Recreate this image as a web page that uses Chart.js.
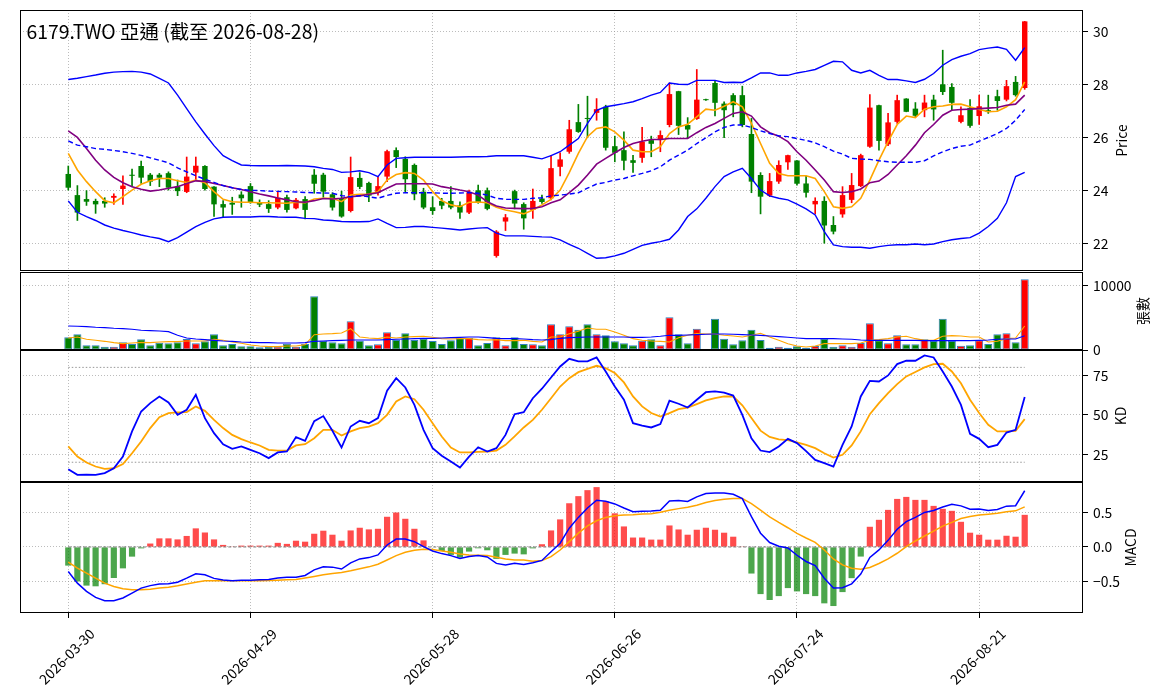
<!DOCTYPE html>
<html>
<head>
<meta charset="utf-8">
<script src="https://cdn.jsdelivr.net/npm/chart.js@4.4.1/dist/chart.umd.min.js"></script>
<style>
html,body{margin:0;padding:0;background:#fff;}
#wrap{position:relative;width:1163px;height:698px;overflow:hidden;background:#fff;}
canvas{position:absolute;left:0;}
</style>
</head>
<body>
<div id="wrap">
<canvas id="cPrice"></canvas>
<canvas id="cVol"></canvas>
<canvas id="cKD"></canvas>
<canvas id="cMACD"></canvas>
</div>
<script>
// ---------------- data ----------------
const titleText = '6179.TWO 亞通 (截至 2026-08-28)';
const dates = ['2026-03-30','2026-03-31','2026-04-01','2026-04-02','2026-04-07','2026-04-08','2026-04-09','2026-04-10','2026-04-13','2026-04-14','2026-04-15','2026-04-16','2026-04-17','2026-04-20','2026-04-21','2026-04-22','2026-04-23','2026-04-24','2026-04-27','2026-04-28','2026-04-29','2026-04-30','2026-05-04','2026-05-05','2026-05-06','2026-05-07','2026-05-08','2026-05-11','2026-05-12','2026-05-13','2026-05-14','2026-05-15','2026-05-18','2026-05-19','2026-05-20','2026-05-21','2026-05-22','2026-05-25','2026-05-26','2026-05-27','2026-05-28','2026-05-29','2026-06-01','2026-06-02','2026-06-03','2026-06-04','2026-06-05','2026-06-08','2026-06-09','2026-06-10','2026-06-11','2026-06-12','2026-06-15','2026-06-16','2026-06-17','2026-06-18','2026-06-22','2026-06-23','2026-06-24','2026-06-25','2026-06-26','2026-06-29','2026-06-30','2026-07-01','2026-07-02','2026-07-03','2026-07-06','2026-07-07','2026-07-08','2026-07-09','2026-07-10','2026-07-13','2026-07-14','2026-07-15','2026-07-16','2026-07-17','2026-07-20','2026-07-21','2026-07-22','2026-07-23','2026-07-24','2026-07-27','2026-07-28','2026-07-29','2026-07-30','2026-07-31','2026-08-03','2026-08-04','2026-08-05','2026-08-06','2026-08-07','2026-08-10','2026-08-11','2026-08-12','2026-08-13','2026-08-14','2026-08-17','2026-08-18','2026-08-19','2026-08-20','2026-08-21','2026-08-24','2026-08-25','2026-08-26','2026-08-27','2026-08-28'];
const tickIdx = [0,20,40,60,80,100];

const open = [24.62,23.82,23.67,23.60,23.60,23.72,24.05,24.59,24.92,24.59,24.59,24.65,24.14,23.94,24.67,24.92,24.14,23.48,23.53,23.84,24.16,23.53,23.48,23.35,23.74,
23.32,23.67,24.59,24.59,23.85,23.71,23.22,24.47,24.28,23.91,24.52,25.52,25.19,24.96,23.95,23.36,23.60,23.60,23.43,23.16,24.00,24.00,21.52,22.82,23.97,23.48,23.26,23.69,23.70,
24.89,25.46,26.58,26.72,26.93,27.16,25.67,25.52,25.14,25.23,25.90,25.90,26.47,27.75,26.47,26.70,27.44,28.06,27.28,27.60,27.60,26.13,24.58,23.80,24.33,25.06,25.13,24.26,
23.47,23.60,22.69,23.09,23.64,24.16,25.65,27.22,25.74,26.59,27.47,27.09,27.03,27.43,28.01,27.91,26.59,27.12,26.81,27.03,27.56,27.43,28.10,27.87];
const high = [24.92,24.18,23.99,23.67,23.72,23.87,24.55,24.80,25.11,24.64,24.64,24.70,24.39,25.26,25.26,24.94,24.14,23.61,23.74,23.95,24.26,23.64,23.61,23.97,23.82,
23.70,23.76,24.79,24.65,23.91,23.97,25.26,24.67,24.31,24.52,25.52,25.61,25.27,25.00,24.08,23.76,23.70,24.14,23.57,24.01,24.20,24.09,22.48,23.09,24.01,23.53,24.05,23.82,25.32,
25.42,26.65,27.25,27.56,27.47,27.22,26.05,26.21,25.32,26.38,26.05,26.25,28.06,27.75,26.75,28.57,27.45,28.16,27.35,27.66,27.94,26.72,24.67,24.64,25.12,25.33,25.13,24.54,
23.72,23.76,23.01,24.14,24.64,25.37,27.62,27.22,26.91,27.60,27.47,27.32,27.60,27.60,29.30,28.04,27.16,27.43,27.60,27.60,27.79,28.16,28.31,30.39];
const low = [24.01,22.86,23.43,23.13,23.36,23.47,23.47,24.14,24.26,24.18,24.14,24.01,23.80,23.91,24.39,24.01,23.01,22.98,23.09,23.36,23.51,23.38,23.16,23.30,23.17,
23.30,22.92,23.89,23.74,23.25,22.98,23.18,24.06,23.57,23.82,24.33,24.86,23.95,23.64,23.30,23.09,23.30,23.30,22.94,23.12,23.51,23.26,21.47,22.48,23.30,22.53,22.94,23.51,23.64,
24.55,25.40,26.19,25.99,26.65,25.52,25.08,24.77,24.68,25.06,25.27,25.46,26.40,26.11,25.99,26.68,27.40,26.81,25.99,26.78,26.40,23.91,23.11,23.76,24.26,24.79,24.20,23.74,
23.11,22.00,22.35,22.98,23.53,24.14,25.62,25.52,25.69,26.53,26.97,26.78,26.78,26.65,27.62,27.03,26.55,26.38,26.49,26.91,27.03,27.38,27.56,27.82];
const close = [24.10,23.16,23.57,23.47,23.50,23.79,24.18,24.55,24.48,24.33,24.48,24.10,23.97,24.52,24.93,24.05,23.47,23.35,23.46,23.70,23.55,23.46,23.30,23.72,23.26,
23.64,23.26,24.25,23.95,23.35,23.01,24.50,24.13,23.80,24.16,25.48,25.26,24.42,23.85,23.35,23.22,23.42,23.35,23.16,23.92,23.55,23.30,22.44,22.98,23.50,22.94,23.60,23.56,24.84,
25.17,26.31,26.21,26.70,27.07,25.61,25.42,25.12,25.04,25.84,25.76,26.09,27.64,26.44,26.30,27.43,27.41,27.31,27.03,27.22,26.47,24.33,23.76,24.35,24.96,25.33,24.25,23.91,
23.60,22.67,22.44,23.82,24.20,25.33,27.13,25.87,26.57,27.41,26.97,26.82,27.32,27.06,27.72,27.31,26.84,26.44,27.18,26.96,27.38,27.94,27.60,30.39];

const bbUpper = [28.19,28.24,28.30,28.36,28.43,28.47,28.49,28.50,28.47,28.40,28.23,28.06,27.60,27.09,26.59,26.13,25.69,25.31,25.12,24.96,24.94,24.93,24.93,24.93,24.94,
24.93,24.92,24.89,24.83,24.79,24.68,24.70,24.74,24.67,24.52,24.96,25.21,25.23,25.25,25.25,25.25,25.25,25.25,25.26,25.27,25.27,25.28,25.31,25.31,25.31,25.31,25.25,25.19,25.31,
25.46,25.71,25.96,26.53,27.03,27.16,27.22,27.28,27.35,27.47,27.60,27.70,28.06,28.01,28.00,28.16,28.16,28.16,28.08,28.09,28.08,28.25,28.44,28.44,28.35,28.35,28.44,28.50,
28.57,28.73,28.88,28.86,28.54,28.44,28.54,28.35,28.19,28.19,28.14,28.08,28.20,28.42,28.73,28.94,29.07,29.17,29.32,29.38,29.42,29.33,28.92,29.40];
const bbMid = [25.87,25.71,25.65,25.58,25.55,25.51,25.46,25.40,25.32,25.23,25.14,25.04,24.85,24.70,24.55,24.42,24.30,24.18,24.10,24.03,24.00,23.99,23.97,23.96,23.95,
23.94,23.92,23.91,23.90,23.89,23.80,23.76,23.80,23.76,23.70,23.81,23.89,23.91,23.91,23.91,23.91,23.89,23.89,23.90,23.91,23.89,23.82,23.70,23.66,23.66,23.66,23.70,23.72,23.79,
23.82,23.86,23.91,24.08,24.24,24.30,24.39,24.45,24.55,24.64,24.74,24.89,25.14,25.33,25.52,25.77,25.99,26.21,26.38,26.47,26.47,26.38,26.25,26.15,26.06,26.03,25.96,25.89,
25.80,25.65,25.48,25.37,25.21,25.18,25.17,25.12,25.08,25.06,25.06,25.06,25.12,25.30,25.46,25.58,25.67,25.71,25.86,26.00,26.15,26.34,26.65,27.06];
const bbLower = [23.60,23.17,23.01,22.86,22.69,22.57,22.48,22.40,22.31,22.24,22.18,22.06,22.21,22.42,22.63,22.79,22.92,22.98,22.99,22.99,22.99,23.01,23.01,22.99,22.98,
22.98,22.94,22.93,22.88,22.86,22.82,22.81,22.81,22.82,22.92,22.75,22.59,22.60,22.63,22.63,22.60,22.57,22.54,22.50,22.54,22.57,22.59,22.38,22.28,22.28,22.28,22.26,22.24,22.23,
22.13,21.96,21.81,21.62,21.43,21.45,21.52,21.62,21.77,21.92,22.00,22.06,22.15,22.50,23.01,23.30,23.70,24.14,24.52,24.70,24.83,24.45,24.01,23.79,23.70,23.64,23.48,23.30,
23.07,22.44,21.94,21.87,21.85,21.85,21.81,21.87,21.92,21.94,21.94,21.97,21.94,21.97,22.06,22.13,22.18,22.21,22.38,22.63,22.94,23.53,24.52,24.68];
const ma5 = [25.40,24.77,24.33,23.95,23.61,23.53,23.76,24.01,24.23,24.36,24.45,24.45,24.36,24.30,24.39,24.29,23.95,23.66,23.57,23.55,23.55,23.53,23.53,23.52,23.51,
23.55,23.53,23.67,23.70,23.70,23.57,23.82,23.85,23.86,23.95,24.39,24.60,24.67,24.64,24.39,23.95,23.61,23.45,23.38,23.55,23.56,23.53,23.36,23.26,23.19,23.11,23.26,23.45,23.66,
24.01,24.67,25.40,26.03,26.34,26.40,26.21,25.90,25.52,25.46,25.46,25.65,26.15,26.40,26.50,26.78,27.07,27.03,27.18,27.35,27.16,26.53,25.77,25.02,24.64,24.55,24.55,24.55,
24.45,23.95,23.38,23.32,23.38,23.70,24.39,25.14,25.84,26.49,26.81,26.75,27.07,27.16,27.19,27.25,27.26,27.16,27.06,26.97,26.99,27.16,27.43,28.10];
const ma10 = [26.25,26.00,25.58,25.14,24.77,24.49,24.29,24.14,24.04,23.97,24.01,24.08,24.14,24.26,24.36,24.34,24.26,24.18,24.10,24.03,23.95,23.86,23.79,23.71,23.64,
23.57,23.55,23.61,23.69,23.67,23.70,23.76,23.79,23.85,23.91,24.08,24.24,24.25,24.25,24.25,24.24,24.14,24.08,24.01,23.95,23.82,23.57,23.41,23.33,23.32,23.31,23.32,23.38,23.53,
23.64,23.91,24.20,24.58,24.99,25.21,25.42,25.62,25.77,25.86,25.92,25.92,25.96,25.96,25.96,26.18,26.38,26.53,26.72,26.91,26.97,26.81,26.40,26.18,26.05,25.84,25.46,25.14,
24.77,24.39,23.95,23.92,23.95,24.05,24.29,24.35,24.60,24.96,25.31,25.71,26.18,26.49,26.84,27.03,27.06,27.07,27.09,27.11,27.13,27.22,27.26,27.60];

const volume = [1959,2423,722,722,515,515,1186,928,1649,722,1134,1031,1186,1701,1031,1340,2423,722,928,567,567,412,464,515,979,
515,928,8299,1443,1186,1031,4433,1443,722,876,2732,1546,2577,1546,1753,1392,928,1495,1907,1856,722,1082,1959,722,1959,928,876,722,3969,
2423,3660,3144,3969,2423,2268,1340,1031,722,1443,1649,722,5052,2423,1031,3299,30,4845,1753,876,1495,3144,1546,361,515,361,567,361,
619,1753,515,722,515,1082,4124,1495,1031,2268,876,876,1649,1392,4845,1392,670,722,1495,928,2423,2577,1186,10928];
const volMA20 = [3711,3660,3608,3505,3454,3351,3299,3196,3041,2990,2938,2835,2268,1856,1701,1598,1495,1392,1340,1237,1186,1134,1134,1083,1083,
1083,1134,1340,1392,1443,1495,1547,1547,1547,1547,1598,1650,1701,1753,1804,1804,1856,1907,1959,2010,2010,1907,1804,1753,1753,1701,1598,1547,1598,
1804,1907,1959,2010,2010,2010,2010,2010,1959,1959,2010,2114,2268,2268,2320,2371,2423,2474,2474,2423,2371,2320,2268,2165,2062,1959,1856,1753,
1753,1753,1753,1701,1650,1547,1495,1495,1495,1495,1495,1495,1443,1443,1443,1443,1443,1443,1495,1547,1650,1701,1701,2217];
const volMA5 = [1856,2010,1650,1495,1340,1134,979,1083,1186,1134,1237,1289,1289,1392,1392,1392,1650,1495,1237,1031,773,619,516,516,619,
619,825,2371,2474,2526,2629,3299,2010,1856,1753,2010,1856,2010,2062,2114,1959,1753,1701,1753,1753,1598,1547,1598,1443,1443,1495,1340,1237,2010,
2010,2526,2887,3402,3196,3196,2784,2268,1753,1495,1392,1340,1237,1907,2268,2526,2474,2474,2268,2165,2010,2268,2577,2010,1495,979,619,464,
619,979,979,979,979,1083,1495,1598,1753,2010,2114,1753,1495,1495,2114,2217,2165,2010,2010,1237,1340,1753,1856,3712];

const kLine = [15.6,12.0,12.2,12.0,13.1,16.2,23.6,39.5,52.1,57.4,61.6,57.8,50.0,53.2,62.7,47.9,38.4,31.4,28.5,30.0,27.8,25.7,22.6,26.2,26.8,
35.9,33.5,46.0,49.2,39.9,29.3,42.6,46.2,44.7,47.9,65.2,73.2,67.3,56.3,40.5,28.9,24.1,20.5,16.7,23.6,29.5,26.8,28.9,37.3,50.4,51.7,60.5,66.5,73.6,
80.6,85.4,83.8,83.8,86.3,77.4,67.9,59.5,44.7,43.2,42.0,44.1,58.9,57.0,54.6,59.5,64.3,64.8,64.1,62.2,50.0,35.2,27.4,26.4,30.0,34.8,32.1,27.0,
21.5,19.4,17.3,31.0,42.6,61.6,71.5,71.1,74.9,82.1,84.2,84.2,87.6,86.3,77.4,67.9,56.3,38.0,34.8,29.5,31.0,38.8,40.5,61.2];
const dLine = [30.0,23.6,19.8,17.3,15.8,16.2,18.8,25.7,33.1,41.6,48.5,51.1,51.5,51.7,55.3,52.5,46.8,41.6,37.3,34.6,32.5,30.6,27.8,27.4,27.4,
30.6,31.4,35.2,40.5,40.5,36.9,39.5,41.6,42.6,44.7,50.0,58.4,61.6,59.9,53.2,44.7,36.3,29.3,26.2,26.2,26.6,26.8,27.4,31.0,36.3,42.0,46.8,53.2,60.5,
67.9,73.2,77.0,79.1,81.0,79.5,76.4,70.5,61.6,55.3,51.1,48.9,51.1,53.6,54.6,56.8,59.1,60.5,61.6,61.6,56.0,48.0,40.0,36.0,34.5,34.0,32.5,31.0,
28.9,25.7,23.0,24.7,30.6,39.5,50.4,57.4,63.7,69.4,74.3,77.1,80.0,82.1,82.3,77.4,70.0,59.5,51.1,43.7,39.5,39.5,39.9,47.3];
const kdRefLevels = [20, 80];

const macdHist = [-0.27,-0.50,-0.56,-0.57,-0.54,-0.45,-0.31,-0.14,-0.02,0.05,0.125,0.125,0.11,0.16,0.27,0.21,0.11,0.03,0.003,0.02,0.02,0.02,0.02,0.06,0.045,
0.091,0.077,0.192,0.236,0.178,0.091,0.240,0.279,0.255,0.264,0.438,0.500,0.409,0.264,0.096,-0.005,-0.058,-0.115,-0.154,-0.067,-0.019,-0.048,-0.173,-0.115,-0.096,-0.107,-0.02,0.04,0.24,
0.40,0.634,0.737,0.824,0.868,0.663,0.488,0.298,0.137,0.137,0.107,0.107,0.312,0.254,0.178,0.25,0.279,0.25,0.207,0.149,0.003,-0.385,-0.683,-0.769,-0.712,-0.596,-0.644,-0.683,
-0.712,-0.817,-0.856,-0.654,-0.452,-0.139,0.293,0.394,0.538,0.697,0.726,0.683,0.683,0.596,0.553,0.524,0.365,0.207,0.178,0.106,0.106,0.163,0.149,0.466];
const dif = [-0.356,-0.524,-0.644,-0.731,-0.779,-0.779,-0.740,-0.668,-0.596,-0.560,-0.538,-0.534,-0.510,-0.452,-0.389,-0.404,-0.455,-0.480,-0.488,-0.481,-0.481,-0.476,-0.471,-0.450,-0.440,
-0.438,-0.413,-0.332,-0.288,-0.292,-0.320,-0.231,-0.173,-0.154,-0.115,0.029,0.115,0.115,0.077,0.005,-0.058,-0.096,-0.125,-0.168,-0.139,-0.125,-0.144,-0.238,-0.260,-0.236,-0.254,-0.230,-0.195,-0.068,
0.054,0.273,0.429,0.566,0.678,0.663,0.624,0.566,0.512,0.517,0.522,0.532,0.668,0.673,0.660,0.726,0.774,0.784,0.784,0.764,0.702,0.440,0.200,0.065,0.010,-0.015,-0.120,-0.210,
-0.270,-0.452,-0.596,-0.590,-0.534,-0.392,-0.151,-0.043,0.096,0.258,0.368,0.429,0.501,0.529,0.580,0.618,0.596,0.546,0.551,0.529,0.543,0.592,0.599,0.815];
const signal = [-0.221,-0.308,-0.380,-0.452,-0.524,-0.572,-0.606,-0.620,-0.620,-0.611,-0.596,-0.582,-0.563,-0.538,-0.510,-0.490,-0.490,-0.490,-0.490,-0.490,-0.490,-0.490,-0.486,-0.481,-0.476,
-0.470,-0.449,-0.428,-0.404,-0.385,-0.370,-0.346,-0.317,-0.288,-0.250,-0.188,-0.125,-0.077,-0.048,-0.034,-0.038,-0.058,-0.077,-0.101,-0.115,-0.120,-0.125,-0.149,-0.173,-0.188,-0.190,-0.205,-0.195,-0.141,
-0.044,0.078,0.200,0.307,0.380,0.429,0.454,0.463,0.468,0.478,0.483,0.502,0.532,0.556,0.577,0.606,0.644,0.673,0.692,0.702,0.702,0.630,0.534,0.438,0.356,0.279,0.197,0.130,
0.067,-0.043,-0.173,-0.260,-0.308,-0.322,-0.298,-0.240,-0.173,-0.091,0.005,0.087,0.159,0.231,0.303,0.356,0.413,0.442,0.462,0.476,0.490,0.510,0.524,0.582];

const priceTicks = [22,24,26,28,30];
const volTicks = [0,10000];
const kdTicks = [25,50,75];
const macdTicks = [-0.5,0,0.5];

// ---------------- layout / style ----------------
const FONT = '"Noto Sans CJK TC","Noto Sans CJK SC","Noto Sans",sans-serif';
Chart.defaults.font.family = FONT;
const W = 1163, PLOT_LEFT = 20, AXIS_W = 80;
const X_MIN = -5.3, X_MAX = 111.4;
const GRID = 'rgba(150,150,150,0.8)';
const UP = '#ff0000', DOWN = '#008000';
const candleColor = close.map((c,i) => c >= open[i] ? UP : DOWN);
const n = dates.length;

function pts(arr){ return arr.map((v,i) => ({x:i, y:v})); }
function lineDS(arr, color, width, dash){
  return {type:'line', data:pts(arr), borderColor:color, borderWidth:width, borderDash:dash||[],
          pointRadius:0, pointHoverRadius:0, tension:0, fill:false, order:0};
}
function levelDS(level, color, width, dash){
  return {type:'line', data:[{x:0,y:level},{x:n-1,y:level}], borderColor:color, borderWidth:width,
          borderDash:dash, pointRadius:0, tension:0, fill:false, order:1};
}
function xScale(drawTicks){
  return {type:'linear', min:X_MIN, max:X_MAX, offset:false,
    afterBuildTicks: ax => { ax.ticks = tickIdx.map(v => ({value:v})); },
    afterFit: ax => { ax.height = 0; ax.paddingLeft = 0; ax.paddingRight = 0; ax.paddingTop = 0; ax.paddingBottom = 0; },
    ticks:{display:false},
    grid:{offset:false, color:GRID, lineWidth:0.8, drawTicks:drawTicks, tickLength:5, tickColor:'#000', tickWidth:1},
    border:{display:false, dash:[1,2]}};
}
function yScale(min, max, ticks, fmt){
  return {type:'linear', position:'right', min:min, max:max,
    afterBuildTicks: ax => { ax.ticks = ticks.map(v => ({value:v})); },
    afterFit: ax => { ax.width = AXIS_W; ax.paddingTop = 0; ax.paddingBottom = 0; },
    ticks:{color:'#000', font:{family:FONT, size:13.9}, padding:5, callback:fmt},
    grid:{color:GRID, lineWidth:0.8, drawTicks:true, tickLength:5, tickColor:'#000', tickWidth:1},
    border:{display:false, dash:[1,2]}};
}

const framePlugin = {
  id:'frame',
  afterDraw(chart){
    const {ctx, chartArea:a} = chart;
    ctx.save();
    ctx.strokeStyle = '#000'; ctx.lineWidth = 1;
    ctx.strokeRect(a.left + 0.5, a.top + 0.5, a.right - a.left - 1, a.bottom - a.top - 1);
    ctx.restore();
  }
};
const textPlugin = {
  id:'texts',
  afterDraw(chart, args, opts){
    const ctx = chart.ctx, top = opts.canvasTop || 0;
    (opts.items || []).forEach(t => {
      ctx.save();
      ctx.fillStyle = '#000';
      ctx.font = (t.weight || 'normal') + ' ' + t.size + 'px ' + FONT;
      ctx.textAlign = t.align || 'center';
      ctx.textBaseline = t.baseline || 'middle';
      ctx.translate(t.x, t.y - top);
      if (t.rot) ctx.rotate(t.rot);
      ctx.fillText(t.text, 0, 0);
      ctx.restore();
    });
    if (opts.xLabels){
      const sx = chart.scales.x;
      tickIdx.forEach(v => {
        const x = sx.getPixelForValue(v);
        ctx.save();
        ctx.fillStyle = '#000';
        ctx.font = '13.9px ' + FONT;
        ctx.textAlign = 'center'; ctx.textBaseline = 'middle';
        ctx.translate(x - 1.5, opts.xLabelY - top);
        ctx.rotate(-Math.PI/4);
        ctx.fillText(dates[v], 0, 0);
        ctx.restore();
      });
    }
  }
};

function makePanel(id, top, height, padTop, padBottom, datasets, yOpt, drawXTicks, texts){
  const cv = document.getElementById(id);
  cv.width = W; cv.height = height;
  cv.style.top = top + 'px'; cv.style.width = W + 'px'; cv.style.height = height + 'px';
  return new Chart(cv, {
    data:{datasets:datasets},
    options:{
      responsive:false, animation:false, events:[],
      layout:{padding:{left:PLOT_LEFT, right:0, top:padTop, bottom:padBottom}},
      plugins:{legend:{display:false}, tooltip:{enabled:false}, texts:Object.assign({canvasTop:top}, texts)},
      scales:{x:xScale(drawXTicks), y:yOpt}
    },
    plugins:[framePlugin, textPlugin]
  });
}

// ---------------- price panel ----------------
makePanel('cPrice', 2, 279, 8, 10, [
  {type:'bar', data:low.map((l,i) => ({x:i, y:[l, high[i]]})), backgroundColor:candleColor,
   barThickness:1, grouped:false, order:3},
  {type:'bar', data:open.map((o,i) => ({x:i, y:[o, close[i]]})), backgroundColor:candleColor,
   barPercentage:0.6, categoryPercentage:1, minBarLength:1, grouped:false, order:2},
  lineDS(bbUpper, '#0000ff', 1.4),
  lineDS(bbLower, '#0000ff', 1.4),
  lineDS(bbMid, '#0000ff', 1.4, [5,3]),
  lineDS(ma10, '#800080', 1.6),
  lineDS(ma5, '#ffa500', 1.6)
], yScale(20.95, 30.82, priceTicks, v => String(v)), false,
{items:[
  {text:titleText, x:26.5, y:38.5, size:19.4, align:'left', baseline:'alphabetic'},
  {text:'Price', x:1122, y:140.5, size:13.9, rot:-Math.PI/2}
]});

// ---------------- volume panel ----------------
makePanel('cVol', 264, 96, 8, 10, [
  {type:'bar', data:pts(volume), backgroundColor:candleColor, borderColor:'#2f7fbf', borderWidth:1,
   borderSkipped:false, barPercentage:0.88, categoryPercentage:1, grouped:false, order:2},
  lineDS(volMA20, '#0000ff', 1.1),
  lineDS(volMA5, '#ffa500', 1.1)
], yScale(0, 12056, volTicks, v => String(v)), false,
{items:[{text:'張數', x:1143, y:311, size:13.9, rot:-Math.PI/2}]});

// ---------------- KD panel ----------------
makePanel('cKD', 342, 150, 8, 10, [
  ...kdRefLevels.map(l => levelDS(l, 'rgba(110,110,110,0.9)', 0.8, [1.5,2])),
  lineDS(kLine, '#0000ff', 1.8),
  lineDS(dLine, '#ffa500', 1.8)
], yScale(7.5, 91.0, kdTicks, v => String(v)), false,
{items:[{text:'KD', x:1121, y:416, size:13.9, rot:-Math.PI/2}]});

// ---------------- MACD panel ----------------
makePanel('cMACD', 474, 224, 8, 85, [
  {type:'bar', data:pts(macdHist), backgroundColor:macdHist.map(v => v >= 0 ? 'rgba(255,0,0,0.7)' : 'rgba(0,128,0,0.7)'),
   barPercentage:0.68, categoryPercentage:1, grouped:false, order:3},
  levelDS(0, 'rgba(110,110,110,0.9)', 1, [3,2]),
  lineDS(dif, '#0000ff', 1.5),
  lineDS(signal, '#ffa500', 1.5)
], yScale(-0.957, 0.942, macdTicks, v => (v < 0 ? '\u2212' : '') + Math.abs(v).toFixed(1)), true,
{items:[{text:'MACD', x:1131, y:547.5, size:13.9, rot:-Math.PI/2}], xLabels:true, xLabelY:656.5});
</script>
</body>
</html>
